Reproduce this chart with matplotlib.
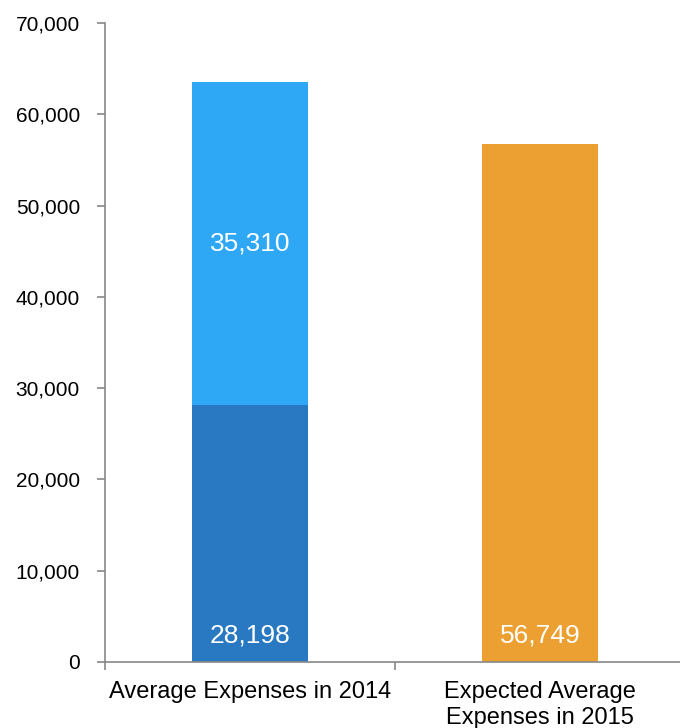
import matplotlib
matplotlib.use("Agg")
import matplotlib.pyplot as plt
from matplotlib.ticker import FuncFormatter

plt.rcParams['font.family'] = ['Liberation Sans', 'DejaVu Sans']

categories = ["Average Expenses in 2014", "Expected Average\nExpenses in 2015"]
base_2014 = [28198, 0]
extra_2014 = [35310, 0]
expected_2015 = [0, 56749]

c_dark = "#2978c2"
c_light = "#2ea8f4"
c_orange = "#eba031"

fig = plt.figure(figsize=(6.8, 7.28), dpi=100)
ax = fig.add_axes([0.1544, 0.0907, 0.853, 0.8777])

x = [0, 1]
w = 0.4
ax.bar(x[0], base_2014[0], width=w, color=c_dark, zorder=2)
ax.bar(x[0], extra_2014[0], width=w, bottom=base_2014[0], color=c_light, zorder=2)
ax.bar(x[1], expected_2015[1], width=w, color=c_orange, zorder=2)

lab = dict(color="white", fontsize=19, ha="center", va="center", zorder=3)
ax.text(x[0], 2850, f"{base_2014[0]:,}", **lab)
ax.text(x[0], base_2014[0] + extra_2014[0] / 2, f"{extra_2014[0]:,}", **lab)
ax.text(x[1], 2850, f"{expected_2015[1]:,}", **lab)

ax.set_ylim(0, 70000)
ax.set_xlim(-0.5, 1.5)
ax.set_yticks(range(0, 70001, 10000))
ax.yaxis.set_major_formatter(FuncFormatter(lambda v, p: f"{int(v):,}"))

ax.set_xticks(x)
ax.set_xticklabels(categories)
ax.set_xticks([-0.5, 0.5, 1.5], minor=True)
ax.tick_params(axis="x", which="major", length=0, labelsize=17, pad=14)
ax.tick_params(axis="x", which="minor", length=6, color="#888888", width=1.2)
ax.tick_params(axis="y", length=6, color="#888888", width=1.2, labelsize=15, pad=12)

for s in ["top", "right"]:
    ax.spines[s].set_visible(False)
for s in ["left", "bottom"]:
    ax.spines[s].set_color("#888888")
    ax.spines[s].set_linewidth(1.2)

fig.savefig("out.png", dpi=100)
